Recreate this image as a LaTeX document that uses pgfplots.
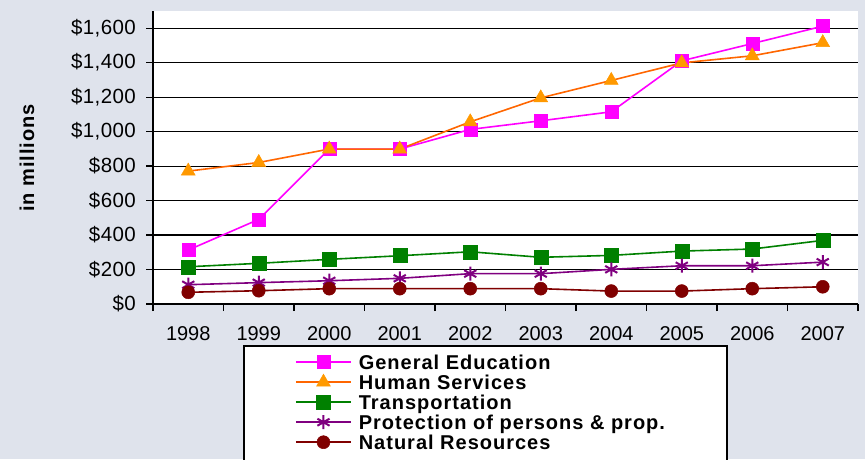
\documentclass[border=0pt]{standalone}
\usepackage{pgfplots}
\pgfplotsset{compat=1.18}
\usepackage{fontspec}
\setmainfont{Liberation Sans}
\newfontfamily\legfont[LetterSpace=5]{Liberation Sans}
\newfontfamily\tickfont[LetterSpace=2]{Liberation Sans}
\definecolor{bgc}{RGB}{223,227,236}
\definecolor{magen}{RGB}{255,0,255}
\definecolor{orline}{RGB}{255,102,0}
\definecolor{ormark}{RGB}{255,153,0}
\definecolor{grn}{RGB}{0,128,0}
\definecolor{purp}{RGB}{128,0,128}
\definecolor{dred}{RGB}{128,0,0}
\begin{document}
\begin{tikzpicture}
\fill[bgc] (0,0) rectangle (865pt,459pt);
\clip (0,0) rectangle (865pt,459pt);
\draw[black, line width=1.5pt, fill=white] (244pt,-10pt) rectangle (727pt,113pt);
\node[rotate=90, font=\legfont\bfseries\fontsize{20}{20}\selectfont] at (27pt,301pt) {in millions};
\begin{axis}[
  at={(153pt,155pt)}, anchor=south west,
  width=705pt, height=293pt, scale only axis,
  xmin=-0.5, xmax=9.5, ymin=0, ymax=1700,
  axis lines*=left,
  axis line style={-, line width=1.3pt, black},
  axis background/.style={fill=white},
  xtick={0,...,9},
  xticklabels={1998,1999,2000,2001,2002,2003,2004,2005,2006,2007},
  minor xtick={-0.5,0.5,...,9.5},
  major x tick style={draw=none},
  minor x tick style={black, line width=1.3pt},
  major y tick style={black, line width=1.3pt},
  tick align=outside,
  major tick length=7pt, minor tick length=7pt,
  ytick={0,200,...,1600},
  yticklabels={\$0,\$200,\$400,\$600,\$800,\$1{,}000,\$1{,}200,\$1{,}400,\$1{,}600},
  ymajorgrids=true,
  major grid style={black, line width=1.2pt},
  ticklabel style={font=\fontsize{20}{20}\selectfont, inner sep=0pt},
  yticklabel style={xshift=-10pt, font=\tickfont\fontsize{20.5}{20}\selectfont},
  xticklabel style={yshift=-15pt},
  legend cell align=left,
  legend style={draw=none, fill=none, inner sep=0pt,
    at={(axis description cs:0.2014,-0.1638)}, anchor=north west,
    font=\legfont\bfseries\fontsize{20}{20}\selectfont,
    row sep=0pt, column sep=7pt,
    nodes={inner sep=0pt, text height=17pt, text depth=3pt}},
  legend image code/.code={\draw[mark repeat=2,mark phase=2,#1] plot coordinates {(0pt,0pt) (27.5pt,0pt) (55pt,0pt)};},
]
\addplot[color=magen, line width=1.6pt, mark=square*, mark size=6.5pt, mark options={fill=magen, draw=magen, line width=0.5pt}]
 coordinates {(0,313) (1,491) (2,899) (3,899) (4,1013) (5,1063) (6,1115) (7,1411) (8,1511) (9,1612)};
\addlegendentry{General Education}
\addplot[color=orline, line width=1.6pt, mark=triangle*, mark size=8pt, mark options={fill=ormark, draw=ormark, line width=0.5pt}]
 coordinates {(0,771) (1,821) (2,899) (3,899) (4,1057) (5,1196) (6,1297) (7,1399) (8,1440) (9,1516)};
\addlegendentry{Human Services}
\addplot[color=grn, line width=1.6pt, mark=square*, mark size=7pt, mark options={fill=grn, draw=grn, line width=0.5pt}]
 coordinates {(0,216) (1,236) (2,259) (3,280) (4,303) (5,271) (6,282) (7,307) (8,319) (9,369)};
\addlegendentry{Transportation}
\addplot[color=purp, line width=1.6pt, mark=asterisk, mark size=7pt, mark options={draw=purp, line width=2pt}]
 coordinates {(0,112) (1,124) (2,135) (3,149) (4,176) (5,176) (6,201) (7,222) (8,222) (9,243)};
\addlegendentry{Protection of persons \& prop.}
\addplot[color=dred, line width=1.6pt, mark=*, mark size=6.5pt, mark options={fill=dred, draw=dred, line width=0.5pt}]
 coordinates {(0,68) (1,77) (2,89) (3,89) (4,89) (5,89) (6,75) (7,75) (8,89) (9,100)};
\addlegendentry{Natural Resources}
\end{axis}
\end{tikzpicture}
\end{document}
